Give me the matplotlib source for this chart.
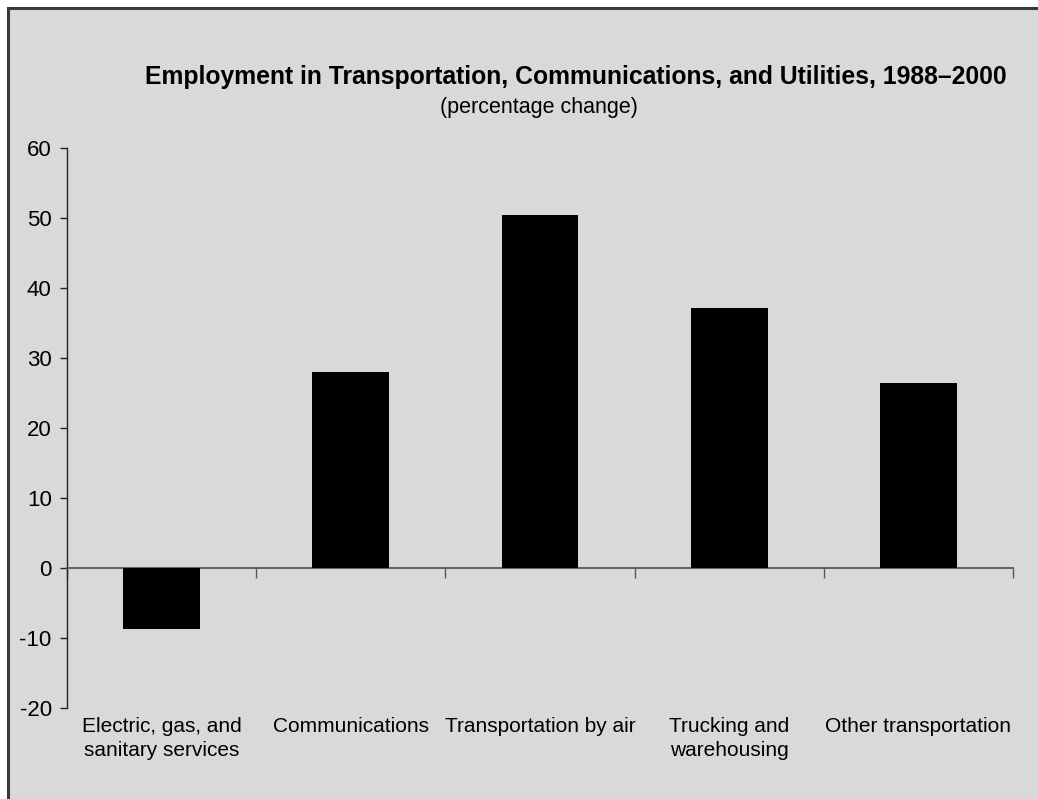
import matplotlib
matplotlib.use("Agg")
import matplotlib.pyplot as plt
import matplotlib.transforms as mtransforms
from matplotlib.patches import Rectangle

categories = ["Electric, gas, and\nsanitary services", "Communications",
              "Transportation by air", "Trucking and\nwarehousing",
              "Other transportation"]
values = [-8.7, 28.0, 50.5, 37.2, 26.5]
yticks = [-20, -10, 0, 10, 20, 30, 40, 50, 60]
title = "Employment in Transportation, Communications, and Utilities, 1988\u20132000"
subtitle = "(percentage change)"

plt.rcParams['font.family'] = ["Liberation Sans", 'DejaVu Sans']

W, H = 1038, 799
fig = plt.figure(figsize=(W / 100, H / 100), dpi=100)
fig.patch.set_facecolor("white")

# gray background panel with top/left border
bg = Rectangle((8 / W, -0.05), 1.1, 1 - 8 / H + 0.05, transform=fig.transFigure,
               facecolor="#D9D9D9", edgecolor="#3a3a3a", linewidth=2.2, zorder=-10)
fig.patches.append(bg)

ax = fig.add_axes([67 / W, (H - 708) / H, (1013 - 67) / W, (708 - 148) / H])
ax.set_facecolor("none")
ax.set_zorder(5)

x = list(range(len(categories)))
ax.bar(x, values, width=0.405, color="black", zorder=3)

ax.set_xlim(-0.5, len(categories) - 0.5)
ax.set_ylim(-20, 60)
ax.set_yticks(yticks)
ax.set_yticklabels([str(v) for v in yticks], fontsize=16)
ax.tick_params(axis="y", direction="out", length=5, width=1, color="#222222", pad=6)

for s in ["top", "right"]:
    ax.spines[s].set_visible(False)
ax.spines["left"].set_color("#222222")
ax.spines["left"].set_linewidth(1.0)
ax.spines["bottom"].set_position(("data", 0))
ax.spines["bottom"].set_color("#555555")
ax.spines["bottom"].set_linewidth(1.3)

ax.set_xticks([])
ax.set_xticks([i - 0.5 for i in range(len(categories) + 1)], minor=True)
ax.tick_params(axis="x", which="minor", direction="out", length=7, width=1, color="#555555",
               labelbottom=False)

trans = mtransforms.blended_transform_factory(ax.transData, ax.transAxes)
for i, lab in enumerate(categories):
    ax.text(i, -0.016, lab, transform=trans, ha="center", va="top", fontsize=15,
            linespacing=1.32, color="black")

fig.text(576 / W, 1 - 84 / H, title, ha="center", va="baseline", fontsize=17.8,
         fontweight="bold", color="black")
fig.text(539 / W, 1 - 113 / H, subtitle, ha="center", va="baseline", fontsize=15.5,
         color="black")

fig.savefig("out.png", dpi=100)
